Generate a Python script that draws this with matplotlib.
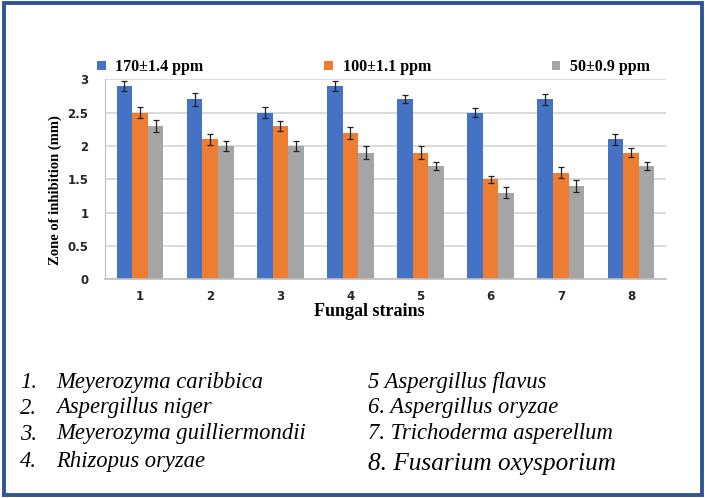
import matplotlib
matplotlib.use("Agg")
import matplotlib.pyplot as plt
import numpy as np
from matplotlib.patches import Rectangle

# ---- data ----
categories = ["1", "2", "3", "4", "5", "6", "7", "8"]
series_names = ["170±1.4 ppm", "100±1.1 ppm", "50±0.9 ppm"]
vals_170 = [2.9, 2.7, 2.5, 2.9, 2.7, 2.5, 2.7, 2.1]
vals_100 = [2.5, 2.1, 2.3, 2.2, 1.9, 1.5, 1.6, 1.9]
vals_50 = [2.3, 2.0, 2.0, 1.9, 1.7, 1.3, 1.4, 1.7]
err_170 = [0.075, 0.095, 0.085, 0.075, 0.06, 0.07, 0.08, 0.085]
err_100 = [0.085, 0.085, 0.075, 0.09, 0.095, 0.05, 0.085, 0.065]
err_50 = [0.09, 0.075, 0.075, 0.10, 0.065, 0.085, 0.09, 0.065]
y_ticks = [0, 0.5, 1, 1.5, 2, 2.5, 3]
y_tick_labels = ["0", "0.5", "1", "1.5", "2", "2.5", "3"]
strains_left_nums = ["1.", "2.", "3.", "4."]
strains_left = ["Meyerozyma caribbica", "Aspergillus niger",
                "Meyerozyma guilliermondii", "Rhizopus oryzae"]
strains_right = ["5 Aspergillus flavus", "6. Aspergillus oryzae",
                 "7. Trichoderma asperellum", "8. Fusarium oxysporium"]

colors = ["#4472C4", "#ED7D31", "#A5A5A5"]

W, H = 705, 498
fig = plt.figure(figsize=(W / 100, H / 100), dpi=100)
fig.patch.set_facecolor("white")

# outer blue border
fig.patches.append(Rectangle((3.5 / W, 3.5 / H), (W - 7) / W, (H - 7) / H,
                             transform=fig.transFigure, fill=False,
                             edgecolor="#2F5597", linewidth=2.8))

ax = fig.add_axes([105 / W, 1 - 279.3 / H, 561 / W, 200 / H])

x = np.arange(len(categories))
bw = 0.222
all_vals = [vals_170, vals_100, vals_50]
all_errs = [err_170, err_100, err_50]
for i, (v, e, c, n) in enumerate(zip(all_vals, all_errs, colors, series_names)):
    ax.bar(x + (i - 1) * bw, v, width=bw, color=c, label=n, zorder=2,
           yerr=e, error_kw=dict(ecolor="#222222", elinewidth=0.9,
                                 capsize=2.3, capthick=0.9, zorder=3))

ax.set_xlim(-0.5, len(categories) - 0.5)
ax.set_ylim(0, 3)
ax.set_yticks(y_ticks)
ax.set_yticklabels(y_tick_labels)
ax.set_xticks(x)
ax.set_xticklabels(categories)
ax.yaxis.grid(True, color="#D4D4D4", linewidth=1.2, zorder=0)
ax.set_axisbelow(True)
for s in ["top", "right"]:
    ax.spines[s].set_visible(False)
ax.spines["left"].set_color("#BFBFBF")
ax.spines["bottom"].set_color("#BFBFBF")
ax.spines["bottom"].set_linewidth(1.2)
ax.tick_params(axis="both", length=0, labelsize=8.5, labelcolor="#262626")
ax.tick_params(axis="y", pad=12)
ax.tick_params(axis="x", pad=8)
for lab in ax.get_xticklabels() + ax.get_yticklabels():
    lab.set_fontweight("bold")

ax.set_xlabel("Fungal strains", fontfamily="Liberation Serif",
              fontweight="bold", fontsize=13, va="center")
ax.xaxis.set_label_coords(0.472, -0.1585)
ax.set_ylabel("Zone of inhibition (mm)", fontfamily="Liberation Serif",
              fontweight="bold", fontsize=10.5, va="center")
ax.yaxis.set_label_coords(-0.089, 0.4465)

leg = ax.legend(loc="lower left", ncol=3, mode="expand",
                bbox_to_anchor=(97 / W, 1 - 75 / H, (650 - 97) / W, 15 / H),
                bbox_transform=fig.transFigure, frameon=False,
                handlelength=0.55, handleheight=0.55, handletextpad=0.6,
                borderaxespad=0, borderpad=0,
                prop=dict(family="Liberation Serif", weight="bold", size=11.5))

# strain list
rows_y = [382, 408, 434, 461]
for yy, num, name in zip(rows_y, strains_left_nums, strains_left):
    fig.text(20 / W, 1 - yy / H, num, fontfamily="Liberation Serif",
             style="italic", fontsize=16.3, va="center", ha="left")
    fig.text(56 / W, 1 - yy / H, name, fontfamily="Liberation Serif",
             style="italic", fontsize=16.3, va="center", ha="left")
rows_y_r = [382, 408, 434, 464]
sizes_r = [16.3, 16.3, 16.3, 18.2]
for yy, name, fs in zip(rows_y_r, strains_right, sizes_r):
    fig.text(368 / W, 1 - yy / H, name, fontfamily="Liberation Serif",
             style="italic", fontsize=fs, va="center", ha="left")

fig.savefig("out.png", dpi=100)
